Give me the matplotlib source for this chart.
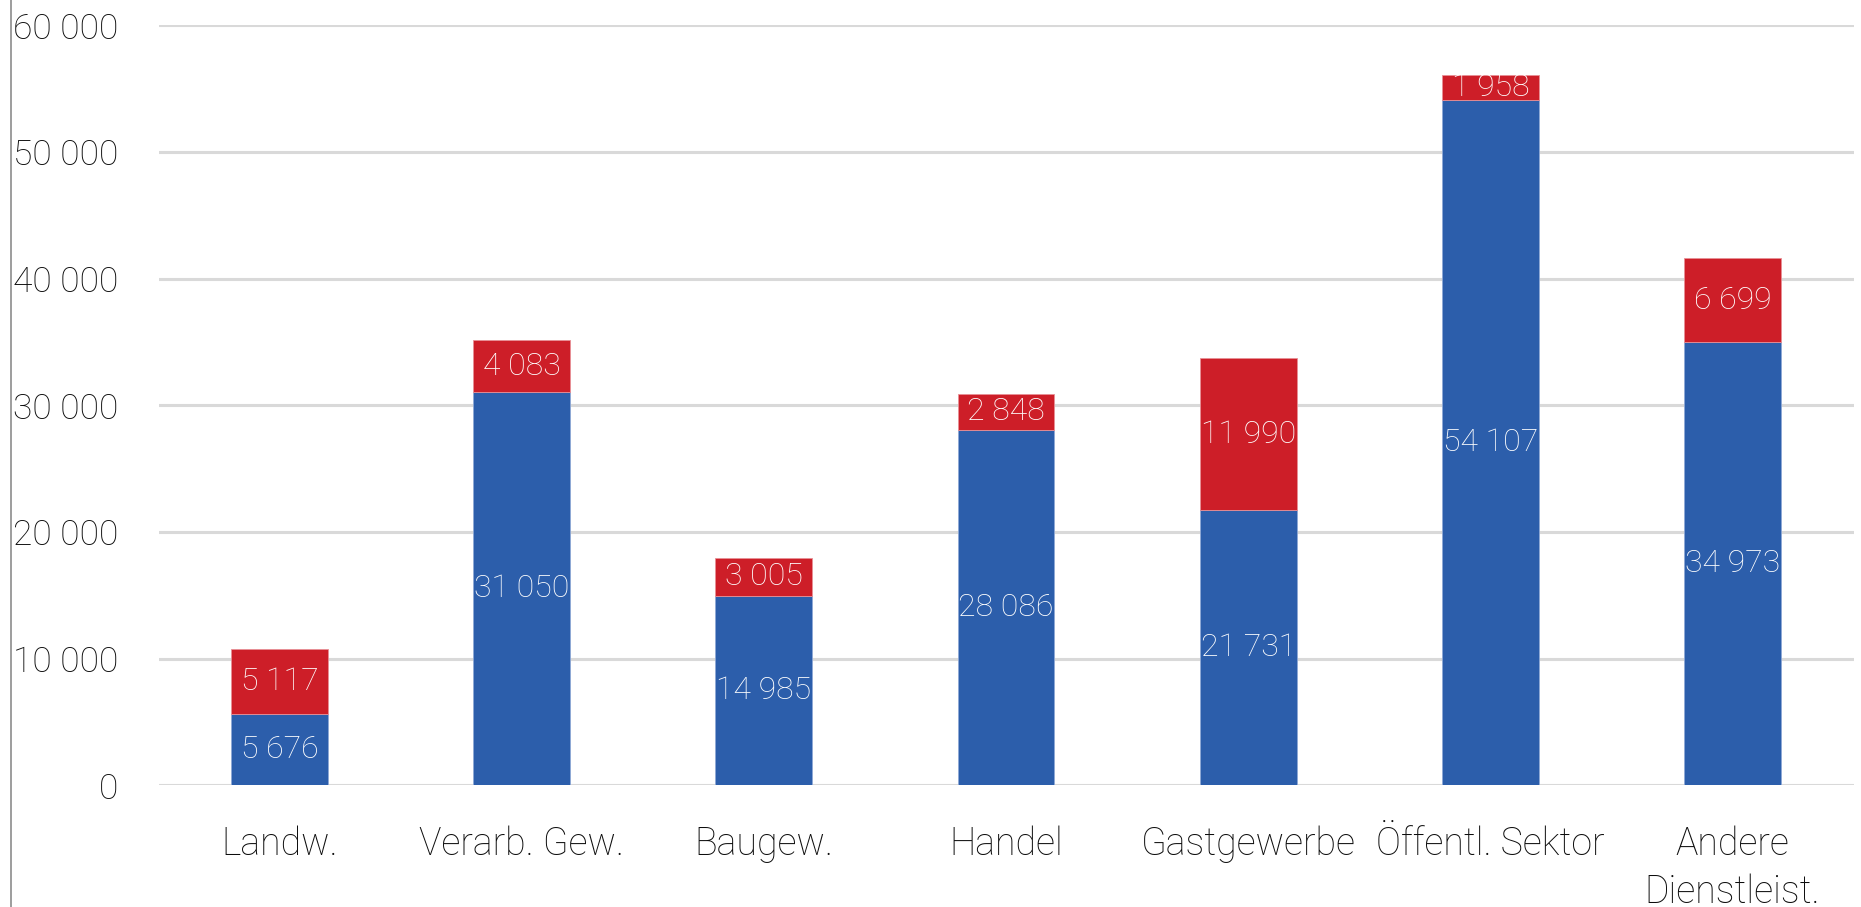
import matplotlib
matplotlib.use("Agg")
import matplotlib.pyplot as plt
from matplotlib.lines import Line2D
from matplotlib.ticker import FuncFormatter

plt.rcParams['font.family'] = ['Roboto', 'DejaVu Sans']
plt.rcParams['font.weight'] = 'light'

kategorien = ["Landw.", "Verarb. Gew.", "Baugew.", "Handel", "Gastgewerbe",
              "Öffentl. Sektor", "Andere\nDienstleist."]
blau_werte = [5676, 31050, 14985, 28086, 21731, 54107, 34973]
rot_werte = [5117, 4083, 3005, 2848, 11990, 1958, 6699]
y_ticks = [0, 10000, 20000, 30000, 40000, 50000, 60000]

BLAU = "#2C5EAB"
ROT = "#CD1E28"


def tsd(v, pos=None):
    return f"{int(v):,}".replace(",", " ")


fig = plt.figure(figsize=(18.61, 9.07), dpi=100)
ax = fig.add_axes([0.0852, 0.134, 0.9108, 0.838])

x = range(len(kategorien))
b1 = ax.bar(x, blau_werte, width=0.4, color=BLAU, edgecolor="#8FA9D6", linewidth=0.6, zorder=3)
b2 = ax.bar(x, rot_werte, width=0.4, bottom=blau_werte, color=ROT, edgecolor="#E89096",
            linewidth=0.6, zorder=3)

for bars, werte in [(b1, blau_werte), (b2, rot_werte)]:
    for r, v in zip(bars, werte):
        ax.text(r.get_x() + r.get_width() / 2, r.get_y() + r.get_height() / 2, tsd(v),
                ha="center", va="center", color="white", fontsize=23, fontweight="light", zorder=4)

ax.set_xlim(-0.5, len(kategorien) - 0.5)
ax.set_ylim(0, 60000)
ax.set_yticks(y_ticks)
ax.yaxis.set_major_formatter(FuncFormatter(tsd))
ax.set_xticks(list(x))
ax.set_xticklabels(kategorien, linespacing=1.35)
ax.tick_params(axis="y", length=0, pad=29, labelsize=25.5, labelcolor="#0d0d0d")
ax.tick_params(axis="x", length=0, pad=29, labelsize=27, labelcolor="#0d0d0d")
ax.grid(axis="y", color="#D9D9D9", linewidth=2.2, zorder=0)
for s in ax.spines.values():
    s.set_visible(False)

# senkrechte Linie am linken Rand
fig.add_artist(Line2D([10.5 / 1861, 10.5 / 1861], [0, 1], color="#8C8C8C", linewidth=1.2))

plt.savefig("out.png", dpi=100)
